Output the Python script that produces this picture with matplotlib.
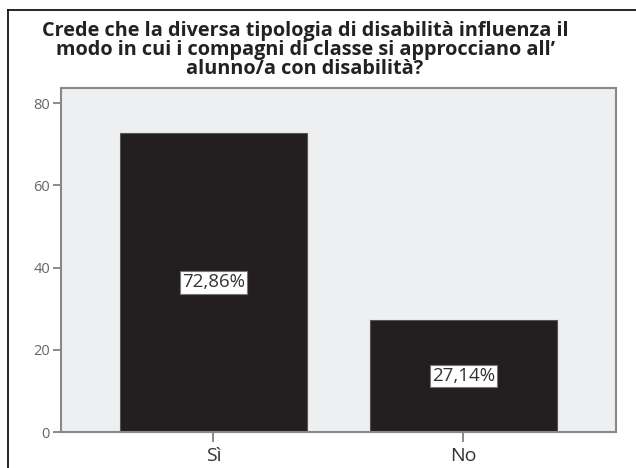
import matplotlib.pyplot as plt
from matplotlib.lines import Line2D

# data
categories = ["Sì", "No"]
values = [72.86, 27.14]
labels = ["72,86%", "27,14%"]
yticks = [0, 20, 40, 60, 80]
title_lines = ["Crede che la diversa tipologia di disabilità influenza il",
               "modo in cui i compagni di classe si approcciano all’",
               "alunno/a con disabilità?"]

plt.rcParams['font.family'] = ['Open Sans', 'DejaVu Sans']

W, H = 636, 468
fig = plt.figure(figsize=(W / 100, H / 100), dpi=100)
ax = fig.add_axes([61 / W, 36 / H, 555 / W, 344 / H])

x = range(len(categories))
ax.bar(x, values, width=0.75, color='#231f20', edgecolor='#555555', linewidth=0.8)

# percentage boxes in the middle of each bar
for i, (v, lab) in enumerate(zip(values, labels)):
    ax.text(i, v / 2, lab, ha='center', va='center', fontsize=13.5, color='#333333',
            bbox=dict(boxstyle='square,pad=0.12', facecolor='white', edgecolor='#777777', linewidth=0.8))

ax.set_xlim(-0.61, 1.61)
ax.set_ylim(0, 83.7)
ax.set_facecolor('#eeeff1')
ax.set_xticks(list(x))
ax.set_xticklabels(categories, fontsize=14, color='#333333')
ax.set_yticks(yticks)
ax.set_yticklabels([str(t) for t in yticks], fontsize=10.5, color='#666666')
ax.tick_params(axis='y', length=6, width=1.2, color='#777777', pad=2)
ax.tick_params(axis='x', length=7.5, width=1.2, color='#777777', pad=3)
for s in ax.spines.values():
    s.set_color('#888888')
    s.set_linewidth(1.5)

# title, one text per line, tightly spaced as in the original
for k, line in enumerate(title_lines):
    fig.text(305 / W, 1 - (36 + 19 * k) / H, line, ha='center', va='baseline',
             fontsize=14.3, fontweight='bold', color='#222222')

# outer frame of the original figure (left and top edges only visible)
fig.add_artist(Line2D([8 / W, 8 / W], [0, 1 - 10 / H], color='black', linewidth=1.2))
fig.add_artist(Line2D([8 / W, 1], [1 - 10 / H, 1 - 10 / H], color='black', linewidth=1.2))

fig.savefig('out.png', dpi=100)
